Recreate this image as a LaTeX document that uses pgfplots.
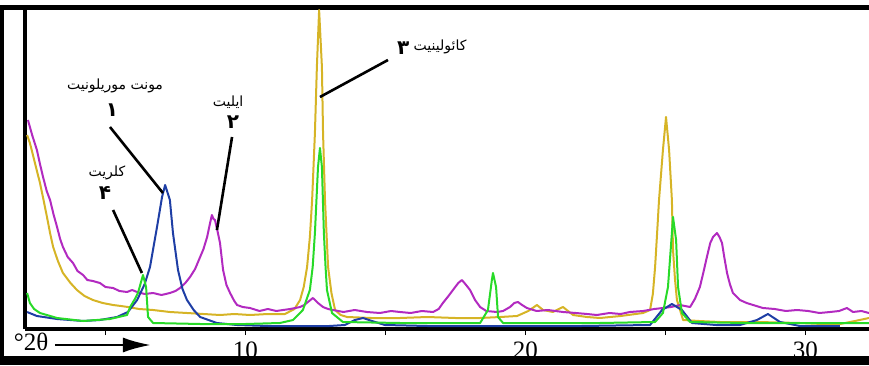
\documentclass[border=0pt]{standalone}
\usepackage{pgfplots}
\pgfplotsset{compat=1.18}
\usetikzlibrary{arrows.meta}
\usepackage{fontspec}
\setmainfont{Liberation Serif}
\newfontfamily\fa[Script=Arabic]{DejaVu Sans}
\TeXXeTstate=1
\definecolor{cpur}{RGB}{178,42,192}
\definecolor{cyel}{RGB}{214,180,38}
\definecolor{cgrn}{RGB}{40,218,40}
\definecolor{cblu}{RGB}{30,62,165}
\begin{document}
\begin{tikzpicture}
\useasboundingbox (-12.5pt,-18pt) rectangle (422pt,164.5pt);
\fill[black] (-12.5pt,-18pt) rectangle (422pt,-13.5pt);
\fill[black] (-12.5pt,-18pt) rectangle (-10.5pt,162pt);
\fill[black] (-12.5pt,159.5pt) rectangle (422pt,162pt);
\begin{axis}[
  scale only axis, width=422pt, height=160.5pt,
  xmin=2.125, xmax=32.27, ymin=0, ymax=321,
  axis x line=bottom, axis y line=left,
  axis line style={-, line width=2pt},
  ytick=\empty,
  xtick={5,10,15,20,25,30}, xticklabels={,10,,20,,30},
  xtick align=outside, major tick length=3pt,
  tick style={black, line width=0.8pt},
  xticklabel style={font=\fontsize{12.5}{12.5}\selectfont, inner sep=0pt, yshift=-3pt},
  clip=false,
  every axis plot/.append style={line width=1pt, line join=round},
]
% yellow (kaolinite)
\addplot[cyel] coordinates {
(2.20,194) (2.30,186) (2.48,166) (2.66,146) (2.78,130) (2.91,112) (3.02,96) (3.13,82) (3.30,68) (3.48,56) (3.75,46) (3.98,39) (4.25,33) (4.55,29) (4.9,26) (5.27,24) (5.55,23) (5.80,22) (6.2,20) (6.70,19) (7.3,17) (7.91,16) (8.5,15) (9.09,14) (9.6,15) (10.16,14) (10.8,15) (11.41,15) (11.75,20) (11.95,29) (12.08,42) (12.20,62) (12.30,92) (12.38,129) (12.48,196) (12.55,262) (12.63,319) (12.73,262) (12.77,196) (12.84,129) (12.90,92) (12.95,62) (13.07,36) (13.20,19) (13.40,14) (13.63,12) (14.5,11) (15.52,11) (16.5,12) (17.5,11) (18.38,11) (19.1,12) (19.70,13) (20.1,18) (20.41,24) (20.63,19) (20.98,17) (21.34,22) (21.70,14) (22.2,12) (22.66,11) (23.4,13) (24.20,16) (24.45,19) (24.55,35) (24.63,62) (24.70,95) (24.77,129) (24.91,179) (25.02,212) (25.13,179) (25.23,129) (25.27,79) (25.34,50) (25.41,29) (25.63,9) (26.2,8) (26.95,7) (28.3,7) (29.80,6) (30.6,5) (31.23,5) (31.77,8) (32.27,11)
};
% purple (illite)
\addplot[cpur] coordinates {
(2.23,209) (2.38,194) (2.55,179) (2.66,165) (2.77,152) (2.90,138) (3.02,129) (3.15,114) (3.27,102) (3.38,90) (3.48,82) (3.65,72) (3.84,66) (4.0,58) (4.20,54) (4.35,49) (4.55,48) (4.80,46) (5.0,42) (5.27,41) (5.5,38) (5.77,37) (5.95,39) (6.13,37) (6.4,35) (6.70,36) (7.0,34) (7.30,36) (7.5,38) (7.66,41) (7.85,46) (8.02,52) (8.2,60) (8.38,72) (8.5,80) (8.63,92) (8.72,104) (8.80,114) (8.86,110) (8.91,109) (9.00,98) (9.09,86) (9.20,59) (9.32,44) (9.45,36) (9.60,28) (9.70,24) (9.9,22) (10.16,21) (10.5,18) (10.8,20) (11.1,18) (11.34,19) (11.6,20) (11.95,22) (12.10,24) (12.23,27) (12.41,31) (12.59,26) (12.77,22) (12.95,20) (13.13,19) (13.5,17) (13.9,19) (14.34,17) (14.8,16) (15.2,18) (15.52,17) (15.9,16) (16.3,18) (16.70,17) (16.9,20) (17.05,26) (17.25,33) (17.41,39) (17.6,46) (17.73,49) (17.88,44) (18.02,39) (18.2,29) (18.38,22) (18.6,18) (18.98,17) (19.2,18) (19.45,22) (19.6,26) (19.73,27) (19.88,24) (20.05,21) (20.4,18) (20.8,19) (21.34,17) (21.8,16) (22.2,15) (22.55,14) (23.0,16) (23.4,15) (23.73,17) (24.2,18) (24.6,20) (24.91,21) (25.2,22) (25.52,24) (25.7,23) (25.88,22) (26.05,30) (26.23,42) (26.35,56) (26.48,72) (26.60,86) (26.70,92) (26.84,96) (26.93,92) (27.02,86) (27.10,72) (27.20,56) (27.30,45) (27.41,36) (27.66,29) (27.9,26) (28.13,24) (28.48,21) (28.9,20) (29.3,18) (29.70,19) (30.1,18) (30.5,16) (30.88,17) (31.2,18) (31.48,21) (31.7,17) (32.0,18) (32.27,16)
};
% blue (montmorillonite)
\addplot[cblu] coordinates {
(2.20,17) (2.55,13) (3.27,10) (4.20,8) (4.80,9) (5.41,12) (5.80,17) (6.13,29) (6.40,45) (6.59,62) (6.84,102) (7.02,132) (7.13,144) (7.30,129) (7.41,96) (7.59,59) (7.75,40) (7.91,29) (8.15,19) (8.38,12) (8.98,6) (9.70,4) (10.8,3) (11.95,3) (13.0,3) (13.55,4) (13.91,9) (14.20,11) (14.52,8) (14.98,4) (16.5,3) (19.09,3) (22.0,3) (24.45,4) (24.88,19) (25.23,25) (25.59,19) (25.95,6) (26.8,4) (27.66,4) (28.27,9) (28.66,15) (29.09,7) (29.80,3) (31.23,3)
};
% green (chlorite)
\addplot[cgrn] coordinates {
(2.20,36) (2.30,26) (2.45,20) (2.66,16) (3.27,11) (4.20,8) (5.16,10) (5.77,14) (5.88,22) (6.05,30) (6.16,36) (6.34,54) (6.45,42) (6.52,12) (6.70,6) (8.38,5) (10.0,5) (11.23,6) (11.70,9) (12.05,19) (12.30,39) (12.40,62) (12.48,96) (12.59,162) (12.66,181) (12.73,162) (12.80,96) (12.86,62) (12.91,39) (13.09,16) (13.48,7) (15.52,6) (18.38,6) (18.66,19) (18.80,49) (18.84,56) (18.95,42) (19.02,12) (19.20,6) (22.66,6) (24.63,7) (24.91,16) (25.09,42) (25.23,96) (25.27,112) (25.38,89) (25.45,42) (25.59,16) (25.88,7) (27.8,6) (29.80,6) (32.27,6)
};
% leader lines
\draw[line width=1.3pt] (axis cs:5.16,202) -- (axis cs:7.05,136);
\draw[line width=1.3pt] (axis cs:9.52,192) -- (axis cs:8.98,99);
\draw[line width=1.3pt] (axis cs:15.09,269) -- (axis cs:12.66,232);
\draw[line width=1.3pt] (axis cs:5.27,119) -- (axis cs:6.30,56);
% labels
\node[font=\fa\fontsize{7}{7}\selectfont, inner sep=0pt] at (axis cs:5.34,243) {\beginR مونت موریلونیت\endR};
\node[font=\fa\bfseries\fontsize{10}{10}\selectfont, inner sep=0pt] at (axis cs:5.23,219) {۱};
\node[font=\fa\fontsize{7}{7}\selectfont, inner sep=0pt] at (axis cs:9.38,227) {\beginR ایلیت\endR};
\node[font=\fa\bfseries\fontsize{10}{10}\selectfont, inner sep=0pt] at (axis cs:9.55,207) {۲};
\node[font=\fa\fontsize{7}{7}\selectfont, inner sep=0pt] at (axis cs:16.95,282) {\beginR کائولینیت\endR};
\node[font=\fa\bfseries\fontsize{10}{10}\selectfont, inner sep=0pt] at (axis cs:15.63,281) {۳};
\node[font=\fa\fontsize{7}{7}\selectfont, inner sep=0pt] at (axis cs:5.05,156) {\beginR کلریت\endR};
\node[font=\fa\bfseries\fontsize{10}{10}\selectfont, inner sep=0pt] at (axis cs:4.98,136) {۴};
\end{axis}
\node[font=\fontsize{12.5}{12.5}\selectfont, inner sep=0pt] at (3pt,-6.5pt) {°2θ};
\draw[line width=1.3pt, -{Latex[length=14pt,width=7.5pt]}] (15pt,-8pt) -- (63pt,-8pt);
\end{tikzpicture}
\end{document}
